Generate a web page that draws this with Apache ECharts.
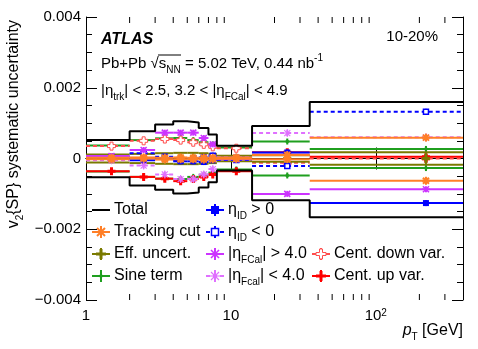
<!DOCTYPE html>
<html><head><meta charset="utf-8">
<script src="https://cdn.jsdelivr.net/npm/echarts@6/dist/echarts.min.js"></script>
<style>html,body{margin:0;padding:0;background:#fff}#c{width:478px;height:349px}</style>
</head><body><div id="c"></div>
<script>
// ---- data ----
const binLo  = [1, 2, 3, 4, 5, 6, 7, 8, 14, 35];
const binHi  = [2, 3, 4, 5, 6, 7, 8, 14, 35, 400];
const binMid = [1.5, 2.5, 3.5, 4.5, 5.5, 6.5, 7.5, 10.9, 24.5, 222];
const totalUp   = [0.00052, 0.00077, 0.00096, 0.00105, 0.00102, 0.00086, 0.00068, 0.00036, 0.00092, 0.00160];
const totalDown = [-0.00053, -0.00076, -0.00088, -0.00099, -0.00096, -0.00082, -0.00067, -0.00034, -0.00118, -0.00166];
const trackCutA = [-0.00002, 0.00000, -0.00003, -0.00002, -0.00002, -0.00003, -0.00002, -0.00001, 0.00010, 0.00059];
const trackCutB = [0.00002, 0.00003, 0.00002, 0.00003, 0.00002, 0.00002, 0.00002, 0.00003, -0.00002, -0.00063];
const effUnc    = [0.00011, 0.00013, 0.00015, 0.00016, 0.00016, 0.00015, 0.00013, 0.00008, 0.00009, 0.00018];
const sineTerm  = [0.00037, 0.00052, 0.00057, 0.00058, 0.00052, 0.00046, 0.00040, 0.00031, 0.00048, 0.00027];
const etaIdPos  = [0.00005, -0.00005, 0.00000, -0.00008, -0.00008, -0.00010, -0.00005, 0.00002, 0.00017, -0.00126];
const etaIdNeg  = [-0.00002, 0.00015, 0.00005, -0.00005, 0.00000, 0.00003, 0.00008, -0.00004, -0.00021, 0.00132];
const fcalHigh  = [0.00007, 0.00024, 0.00073, 0.00073, 0.00073, 0.00058, 0.00040, -0.00002, -0.00100, -0.00087];
const fcalLow   = [-0.00005, -0.00020, -0.00045, -0.00058, -0.00058, -0.00045, -0.00030, 0.00003, 0.00072, 0.00060];
const centDown  = [0.00035, 0.00050, 0.00055, 0.00052, 0.00046, 0.00040, 0.00033, 0.00029, -0.00012, 0.00000];
const centUp    = [-0.00036, -0.00052, -0.00057, -0.00064, -0.00058, -0.00052, -0.00045, -0.00036, 0.00018, 0.00005];
const xMinorTicks = [2, 3, 4, 5, 6, 7, 8, 9, 20, 30, 40, 50, 60, 70, 80, 90, 200, 300];
const xTickLabels = {1: '1', 10: '10', 100: '10{sup|2}'};
const yTickValues = [-0.004, -0.002, 0, 0.002, 0.004];

// ---- styles ----
const FONT = '"Liberation Sans", Arial, Helvetica, sans-serif';
const C = {
  orange: '#ff7f27', olive: '#7a7a00', green: '#1f9f1f', blue: '#0000ff',
  mag: '#cc33ff', magL: '#e070ff', redL: '#ff4c4c', red: '#ff0000'
};

function plusPts(x, y, r, w) {
  return [[x-w,y-r],[x+w,y-r],[x+w,y-w],[x+r,y-w],[x+r,y+w],[x+w,y+w],[x+w,y+r],[x-w,y+r],[x-w,y+w],[x-r,y+w],[x-r,y-w],[x-w,y-w]];
}
function ln(x1,y1,x2,y2,c,w,dash){
  return {type:'line', shape:{x1,y1,x2,y2}, style:{stroke:c, lineWidth:w||2, lineDash:dash||null}};
}
function marker(type, x, y, c, s) {
  s = s || 3;
  switch (type) {
    case 'square': return {type:'rect', shape:{x:x-s,y:y-s,width:2*s,height:2*s}, style:{fill:c}};
    case 'openSquare': return {type:'rect', shape:{x:x-s+0.5,y:y-s+0.5,width:2*s-1,height:2*s-1}, style:{fill:'#fff',stroke:c,lineWidth:1.5}};
    case 'cross': return {type:'polygon', shape:{points:plusPts(x,y,s+1,1.5)}, style:{fill:c}};
    case 'openCross': return {type:'polygon', shape:{points:plusPts(x,y,s+1,1.5)}, style:{fill:'#fff',stroke:c,lineWidth:1}};
    case 'asterisk': return {type:'group', children:[
        ln(x-s,y-s,x+s,y+s,c,2), ln(x-s,y+s,x+s,y-s,c,2), ln(x-s-1,y,x+s+1,y,c,2), ln(x,y-s-1,x,y+s+1,c,2)]};
    case 'star': return {type:'group', children:[
        ln(x-s,y-s,x+s,y+s,c,1.6), ln(x-s,y+s,x+s,y-s,c,1.6), ln(x-s-1,y,x+s+1,y,c,1.6)]};
    case 'openStar': return {type:'group', children:[
        ln(x-s,y-s,x+s,y+s,c,1.1), ln(x-s,y+s,x+s,y-s,c,1.1), ln(x-s-1,y,x+s+1,y,c,1.1), ln(x,y-s-1,x,y+s+1,c,1.1)]};
    case 'diamond': return {type:'polygon', shape:{points:[[x,y-2.5],[x+2.5,y],[x,y+2.5],[x-2.5,y]]}, style:{fill:c}};
  }
}

function segSeries(name, vals, sign, color, dash, mtype) {
  return {
    type: 'custom', name, silent: true, animation: false, clip: true,
    encode: {x: [0, 1, 2], y: 3},
    data: vals.map((v, i) => [binLo[i], binHi[i], binMid[i], sign * v]),
    renderItem: (params, api) => {
      const v = api.value(3);
      const a = api.coord([api.value(0), v]);
      const b = api.coord([api.value(1), v]);
      const m = api.coord([api.value(2), v]);
      return {type:'group', children:[
        ln(a[0], a[1], b[0], b[1], color, 2, dash),
        ln(m[0], m[1]-3, m[0], m[1]+3, color, 2),
        marker(mtype, m[0], m[1], color, 3)
      ]};
    }
  };
}
// symmetric band: lines at +v and -v, marker at zero with bar spanning the band
function bandSeries(name, vals, color, mtype) {
  return {
    type: 'custom', name, silent: true, animation: false, clip: true,
    encode: {x: [0, 1, 2], y: [3, 4]},
    data: vals.map((v, i) => [binLo[i], binHi[i], binMid[i], v, -v]),
    renderItem: (params, api) => {
      const up = api.value(3), dn = api.value(4);
      const a1 = api.coord([api.value(0), up]), b1 = api.coord([api.value(1), up]);
      const a2 = api.coord([api.value(0), dn]), b2 = api.coord([api.value(1), dn]);
      const mu = api.coord([api.value(2), up]), md = api.coord([api.value(2), dn]);
      const mc = api.coord([api.value(2), 0]);
      return {type:'group', children:[
        ln(a1[0], a1[1], b1[0], b1[1], color, 2),
        ln(a2[0], a2[1], b2[0], b2[1], color, 2),
        ln(mu[0], mu[1], md[0], md[1], color, 2),
        marker(mtype, mc[0], mc[1], color, 3)
      ]};
    }
  };
}
const DASH = [4, 3];

const series = [
  segSeries('Sine term', sineTerm, 1, C.green, null, 'diamond'),
  segSeries('Sine term -', sineTerm, -1, C.green, null, 'diamond'),
  segSeries('Cent. down var.', centDown, 1, C.redL, DASH, 'openCross'),
  segSeries('Cent. up var.', centUp, 1, C.red, null, 'cross'),
  bandSeries('Eff. uncert.', effUnc, C.olive, 'cross'),
  segSeries('eta_ID < 0', etaIdNeg, 1, C.blue, DASH, 'openSquare'),
  segSeries('eta_ID > 0', etaIdPos, 1, C.blue, null, 'square'),
  segSeries('|eta_Fcal| < 4.0', fcalLow, 1, C.magL, DASH, 'openStar'),
  segSeries('|eta_FCal| > 4.0', fcalHigh, 1, C.mag, null, 'star'),
  segSeries('Tracking cut A', trackCutA, 1, C.orange, null, 'asterisk'),
  segSeries('Tracking cut B', trackCutB, 1, C.orange, null, 'asterisk'),
  {
    type: 'line', name: 'Total', step: 'end', symbol: 'none', silent: true, animation: false,
    lineStyle: {color: '#000', width: 2},
    data: binLo.map((x, i) => [x, totalUp[i]]).concat([[binHi[binHi.length-1], totalUp[totalUp.length-1]]])
  },
  {
    type: 'line', name: 'Total -', step: 'end', symbol: 'none', silent: true, animation: false,
    lineStyle: {color: '#000', width: 2},
    data: binLo.map((x, i) => [x, totalDown[i]]).concat([[binHi[binHi.length-1], totalDown[totalDown.length-1]]])
  },
  {
    type: 'custom', name: 'xminor', silent: true, animation: false, clip: false, z: 10,
    encode: {x: 0, y: 1},
    data: xMinorTicks.map(t => [t, 0]),
    renderItem: (params, api) => {
      const lo = api.coord([api.value(0), -0.004]);
      const hi = api.coord([api.value(0), 0.004]);
      return {type:'group', children:[
        ln(lo[0], lo[1], lo[0], lo[1]-6, '#000', 1),
        ln(hi[0], hi[1], hi[0], hi[1]+6, '#000', 1)
      ]};
    }
  }
];

const axisLine = {show: true, lineStyle: {color: '#000', width: 1}};
const majorTick = {show: true, inside: true, length: 11, lineStyle: {color: '#000', width: 1}};
const minorTick = {show: true, splitNumber: 4, length: 6, lineStyle: {color: '#000', width: 1}};

const option = {
  animation: false,
  grid: {left: 86, right: 15, top: 17, bottom: 49},
  xAxis: [
    {type: 'log', logBase: 10, min: 1, max: 400, position: 'bottom',
      axisLine, axisTick: majorTick, splitLine: {show: false},
      axisLabel: {fontFamily: FONT, fontSize: 15, color: '#000', margin: 8, showMaxLabel: false,
        formatter: v => { const k = Math.round(v); return (Math.abs(v - k) < 1e-6 && xTickLabels[k]) ? xTickLabels[k] : ''; },
        rich: {sup: {fontSize: 10, verticalAlign: 'top', lineHeight: 10, fontFamily: FONT, color: '#000'}}}},
    {type: 'log', logBase: 10, min: 1, max: 400, position: 'top',
      axisLine, axisTick: majorTick, splitLine: {show: false}, axisLabel: {show: false}}
  ],
  yAxis: [
    {type: 'value', min: -0.004, max: 0.004, interval: 0.002, position: 'left',
      axisLine, axisTick: majorTick, minorTick, splitLine: {show: false},
      axisLabel: {fontFamily: FONT, fontSize: 15, color: '#000', margin: 5,
        formatter: v => {
          const t = yTickValues.find(k => Math.abs(k - v) < 1e-9);
          if (t === undefined) return '';
          if (t === 0) return '0';
          return (t < 0 ? '\u2212' : '') + Math.abs(t).toFixed(3);
        }}},
    {type: 'value', min: -0.004, max: 0.004, interval: 0.002, position: 'right',
      axisLine, axisTick: majorTick, minorTick, splitLine: {show: false}, axisLabel: {show: false}}
  ],
  series: series,
  graphic: []
};

// ---- text & legend ----
const base = {fontFamily: FONT, fontSize: 15, fill: '#000'};
const rich = {
  sub: {fontSize: 10, lineHeight: 10, verticalAlign: 'bottom', fontFamily: FONT, fill: '#000'},
  sup: {fontSize: 10, lineHeight: 10, verticalAlign: 'top', fontFamily: FONT, fill: '#000'},
  it: {fontSize: 16, fontStyle: 'italic', fontFamily: FONT, fill: '#000', lineHeight: 22}
};
function txt(x, y, text, o) {
  o = o || {};
  return {type: 'text', x, y, silent: true, rotation: o.rot || 0,
    style: Object.assign({}, base, {text, rich, lineHeight: 22, align: o.align || 'left', verticalAlign: 'middle',
      fontSize: o.size || 15, fontWeight: o.weight || 'normal', fontStyle: o.style || 'normal'})};
}
const G = option.graphic;
G.push(txt(101, 40, 'ATLAS', {weight: 'bold', style: 'italic', size: 16}));
G.push(txt(438, 37, '10-20%', {align: 'right'}));
G.push(txt(101, 64, 'Pb+Pb \u221As{sub|NN} = 5.02 TeV, 0.44 nb{sup|-1}'));
G.push(Object.assign(ln(158, 55, 181, 55, '#000', 1), {silent: true}));
G.push(txt(101, 91, '|\u03b7{sub|trk}| < 2.5, 3.2 < |\u03b7{sub|FCal}| < 4.9'));
G.push(txt(14, 20, 'v{sub|2}{SP} systematic uncertainty', {align: 'right', rot: Math.PI / 2, size: 16}));
G.push(txt(463, 331, '{it|p}{sub|T} [GeV]', {align: 'right', size: 16}));

const legendRows = [210, 232, 254, 276];
const legendItems = [
  {col: 0, row: 0, label: 'Total', color: '#000', dash: null, m: null},
  {col: 0, row: 1, label: 'Tracking cut', color: C.orange, dash: null, m: 'asterisk'},
  {col: 0, row: 2, label: 'Eff. uncert.', color: C.olive, dash: null, m: 'cross'},
  {col: 0, row: 3, label: 'Sine term', color: C.green, dash: null, m: 'diamond'},
  {col: 1, row: 0, label: '\u03b7{sub|ID} > 0', color: C.blue, dash: null, m: 'square'},
  {col: 1, row: 1, label: '\u03b7{sub|ID} < 0', color: C.blue, dash: DASH, m: 'openSquare'},
  {col: 1, row: 2, label: '|\u03b7{sub|FCal}| > 4.0', color: C.mag, dash: null, m: 'star'},
  {col: 1, row: 3, label: '|\u03b7{sub|Fcal}| < 4.0', color: C.magL, dash: DASH, m: 'openStar'},
  {col: 2, row: 2, label: 'Cent. down var.', color: C.redL, dash: DASH, m: 'openCross'},
  {col: 2, row: 3, label: 'Cent. up var.', color: C.red, dash: null, m: 'cross'}
];
const colX = [101, 215, 321];
legendItems.forEach(it => {
  const x = colX[it.col], y = legendRows[it.row];
  G.push(Object.assign(ln(x - 9, y, x + 9, y, it.color, 2, it.dash), {silent: true}));
  if (it.m) {
    G.push(Object.assign(ln(x, y - 6, x, y + 6, it.color, 2), {silent: true}));
    G.push(Object.assign(marker(it.m, x, y, it.color, 4), {silent: true}));
  }
  G.push(txt(x + 13, y, it.label, {size: 16}));
});

const chart = echarts.init(document.getElementById('c'), null, {renderer: 'canvas'});
chart.setOption(option);
</script></body></html>
